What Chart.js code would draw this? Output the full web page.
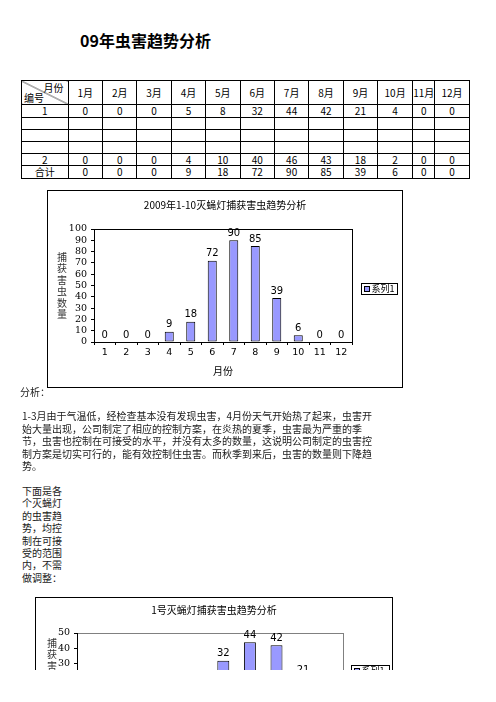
<!DOCTYPE html>
<html>
<head>
<meta charset="utf-8">
<script src="https://cdn.jsdelivr.net/npm/chart.js@4.4.0/dist/chart.umd.min.js"></script>
<style>
html, body { margin: 0; padding: 0; background: #fff; }
#page { position: relative; width: 496px; height: 670px; overflow: hidden;
  font-family: "Noto Sans CJK SC", "Noto Sans", sans-serif; color: #000; }
#title { position: absolute; left: 80px; top: 29px; font-size: 16px; font-weight: bold;
  line-height: 22px; white-space: nowrap; }
#tbl { position: absolute; left: 21px; top: 80px; width: 448px; border-collapse: collapse;
  table-layout: fixed; font-size: 10px; }
#tbl td { border: 1px solid #000; padding: 0; text-align: center; line-height: 10px; overflow: hidden; white-space: nowrap; }
#tbl td.corner { position: relative;
  background: linear-gradient(to top right, transparent calc(50% - 0.6px), #000 50%, transparent calc(50% + 0.6px)); }
#tbl td.corner span { position: absolute; line-height: 10px; }
.chartbox { position: absolute; border: 1px solid #000; box-sizing: border-box; background: #fff; }
.txt { position: absolute; font-size: 10px; line-height: 12.5px; white-space: nowrap; color: #1a1a1a; }
</style>
</head>
<body>
<div id="page">
  <div id="title">09年虫害趋势分析</div>
  <table id="tbl"></table>

  <div class="chartbox" style="left:47px;top:190px;width:356px;height:198px;">
    <canvas id="totalChart"></canvas>
  </div>

  <div class="txt" style="left:20px;top:386px;">分析：</div>
  <div class="txt" style="left:22px;top:410px;">
    1-3月由于气温低，经检查基本没有发现虫害，4月份天气开始热了起来，虫害开<br>
    始大量出现，公司制定了相应的控制方案，在炎热的夏季，虫害最为严重的季<br>
    节，虫害也控制在可接受的水平，并没有太多的数量，这说明公司制定的虫害控<br>
    制方案是切实可行的，能有效控制住虫害。而秋季到来后，虫害的数量则下降趋<br>
    势。
  </div>
  <div class="txt" style="left:22px;top:485px;line-height:12.4px;">
    下面是各<br>个灭蝇灯<br>的虫害趋<br>势，均控<br>制在可接<br>受的范围<br>内，不需<br>做调整：
  </div>

  <div class="chartbox" style="left:35px;top:597px;width:358px;height:160px;">
    <canvas id="lampChart"></canvas>
  </div>
</div>

<script>
// table data
let months = ['1', '2', '3', '4', '5', '6', '7', '8', '9', '10', '11', '12'];
let lamp1 = [0, 0, 0, 5, 8, 32, 44, 42, 21, 4, 0, 0];
let lamp2 = [0, 0, 0, 4, 10, 40, 46, 43, 18, 2, 0, 0];
let totals = [0, 0, 0, 9, 18, 72, 90, 85, 39, 6, 0, 0];

// second chart only shows months 1-10 of lamp 1
let lampMonths = ['1', '2', '3', '4', '5', '6', '7', '8', '9', '10'];
let lampCounts = [0, 0, 0, 5, 8, 32, 44, 42, 21, 4];

let yTitle = '捕获害虫数量';
let seriesName = '系列1';
let barFill = '#9999FF';

// ---- table ----
let colWidths = [46.6, 34.4, 34.4, 34.4, 34.4, 34.4, 34.4, 34.4, 34.4, 34.4, 35, 22.3, 34.3];
let rowHeights = [24, 13, 12, 12, 12, 12, 13];
let rowNames = ['1', '', '', '', '2', '合计'];
let rowValues = [lamp1, null, null, null, lamp2, totals];

let tbl = document.getElementById('tbl');
let html = '<colgroup>';
colWidths.forEach(w => { html += '<col style="width:' + w + 'px">'; });
html += '</colgroup>';
html += '<tr style="height:' + rowHeights[0] + 'px"><td class="corner">'
  + '<span style="right:4px;top:2px">月份</span><span style="left:2px;bottom:1px">编号</span></td>';
months.forEach(m => { html += '<td>' + m + '月</td>'; });
html += '</tr>';
rowNames.forEach((name, r) => {
  html += '<tr style="height:' + rowHeights[r + 1] + 'px"><td>' + name + '</td>';
  months.forEach((m, i) => {
    let vals = rowValues[r];
    html += '<td>' + (vals ? vals[i] : '') + '</td>';
  });
  html += '</tr>';
});
tbl.innerHTML = html;

// ---- charts ----
Chart.defaults.font.family = '"Noto Sans CJK SC", "Noto Sans", sans-serif';
Chart.defaults.font.size = 10;
Chart.defaults.color = '#000';

// box around the plot area
const plotFrame = {
  id: 'plotFrame',
  beforeDraw(chart, args, opts) {
    let a = chart.chartArea, ctx = chart.ctx;
    ctx.save();
    ctx.strokeStyle = opts.color;
    ctx.lineWidth = 1;
    ctx.strokeRect(Math.round(a.left) + 0.5, Math.round(a.top) + 0.5,
      Math.round(a.right - a.left), Math.round(a.bottom - a.top));
    ctx.restore();
  }
};

// chart title, centred on the whole frame (not just the plot)
const frameTitle = {
  id: 'frameTitle',
  afterDraw(chart, args, opts) {
    let ctx = chart.ctx;
    ctx.save();
    ctx.font = '10px "Noto Sans CJK SC", sans-serif';
    ctx.fillStyle = '#000';
    ctx.textAlign = 'center';
    ctx.textBaseline = 'middle';
    ctx.fillText(opts.text, chart.width / 2, opts.y);
    ctx.restore();
  }
};

// numbers above the bars
const valueLabels = {
  id: 'valueLabels',
  afterDatasetsDraw(chart) {
    let ctx = chart.ctx;
    ctx.save();
    ctx.font = '10px "DejaVu Sans", sans-serif';
    ctx.fillStyle = '#000';
    ctx.textAlign = 'center';
    ctx.textBaseline = 'bottom';
    chart.data.datasets.forEach((ds, i) => {
      chart.getDatasetMeta(i).data.forEach((bar, j) => {
        ctx.fillText(String(ds.data[j]), bar.x, bar.y - 2);
      });
    });
    ctx.restore();
  }
};

// y title written top to bottom, one character per line
const stackedTitle = {
  id: 'stackedTitle',
  afterDraw(chart, args, opts) {
    let a = chart.chartArea, ctx = chart.ctx;
    let chars = opts.text.split('');
    let mid = (a.top + a.bottom) / 2;
    ctx.save();
    ctx.font = '10px "Noto Sans CJK SC", sans-serif';
    ctx.fillStyle = '#333';
    ctx.textAlign = 'center';
    ctx.textBaseline = 'middle';
    chars.forEach((c, i) => {
      ctx.fillText(c, opts.x, mid + (i - (chars.length - 1) / 2) * 11.5);
    });
    ctx.restore();
  }
};

// excel style legend box on the right
const boxLegend = {
  id: 'boxLegend',
  afterDraw(chart, args, opts) {
    let a = chart.chartArea, ctx = chart.ctx;
    let ds = chart.data.datasets[0];
    let w = opts.width, h = 11;
    let x = Math.round(a.right + opts.gap) + 0.5;
    let y = Math.round((a.top + a.bottom) / 2 - h / 2 + opts.dy) + 0.5;
    ctx.save();
    ctx.strokeStyle = '#000';
    ctx.lineWidth = 1;
    ctx.strokeRect(x, y, w, h);
    ctx.fillStyle = ds.backgroundColor;
    ctx.fillRect(x + 3, y + 3, 5, 5);
    ctx.strokeRect(x + 3, y + 3, 5, 5);
    ctx.fillStyle = '#000';
    ctx.font = '9px "Noto Sans CJK SC", sans-serif';
    ctx.textBaseline = 'middle';
    ctx.fillText(ds.label, x + 10, y + h / 2);
    ctx.restore();
  }
};

function barChart(canvasId, labels, values, cfg) {
  return new Chart(document.getElementById(canvasId), {
    type: 'bar',
    data: {
      labels: labels,
      datasets: [{
        label: seriesName,
        data: values,
        backgroundColor: barFill,
        borderColor: '#000',
        borderWidth: 1,
        borderSkipped: false,
        barPercentage: cfg.barPct,
        categoryPercentage: 1
      }]
    },
    options: {
      responsive: true,
      maintainAspectRatio: false,
      animation: false,
      events: [],
      layout: { padding: { left: 0, right: cfg.rightPad, top: cfg.topPad, bottom: 0 } },
      plugins: {
        legend: { display: false },
        tooltip: { enabled: false },
        title: { display: false },
        frameTitle: { text: cfg.title, y: cfg.titleY },
        plotFrame: { color: cfg.frameColor },
        stackedTitle: { text: yTitle, x: cfg.yTitleX },
        boxLegend: { gap: cfg.legendGap, dy: cfg.legendDy, width: cfg.legendWidth }
      },
      scales: {
        x: {
          grid: { display: true, drawOnChartArea: false, tickLength: 3, color: '#000', offset: true },
          border: { display: true, color: '#000' },
          ticks: { padding: 2, autoSkip: false, font: { family: '"DejaVu Sans", sans-serif', size: 9.5 }, maxRotation: 0 },
          title: { display: true, text: '月份', font: { size: 10, lineHeight: 1.2 }, padding: { top: 0, bottom: 10 } },
          afterFit(s) { s.height = cfg.xHeight; }
        },
        y: {
          min: 0,
          max: cfg.yMax,
          grid: { display: true, drawOnChartArea: false, tickLength: 3, color: '#000' },
          border: { display: true, color: '#000' },
          ticks: { stepSize: 10, autoSkip: false, padding: 4, font: { family: '"DejaVu Serif", serif', size: 9.5 } },
          afterFit(s) { s.width = cfg.yWidth; }
        }
      }
    },
    plugins: [plotFrame, valueLabels, stackedTitle, boxLegend, frameTitle]
  });
}

barChart('totalChart', months, totals, {
  title: '2009年1-10灭蝇灯捕获害虫趋势分析',
  titleY: 14, topPad: 38,
  rightPad: 50, yWidth: 46, xHeight: 45, yMax: 100,
  barPct: 0.42, frameColor: '#000', yTitleX: 14,
  legendGap: 9, legendDy: 2.5, legendWidth: 36
});

barChart('lampChart', lampMonths, lampCounts, {
  title: '1号灭蝇灯捕获害虫趋势分析',
  titleY: 12, topPad: 35,
  rightPad: 49, yWidth: 41, xHeight: 46, yMax: 50,
  barPct: 0.45, frameColor: '#808080', yTitleX: 16,
  legendGap: 8, legendDy: -1, legendWidth: 38
});
</script>
</body>
</html>
